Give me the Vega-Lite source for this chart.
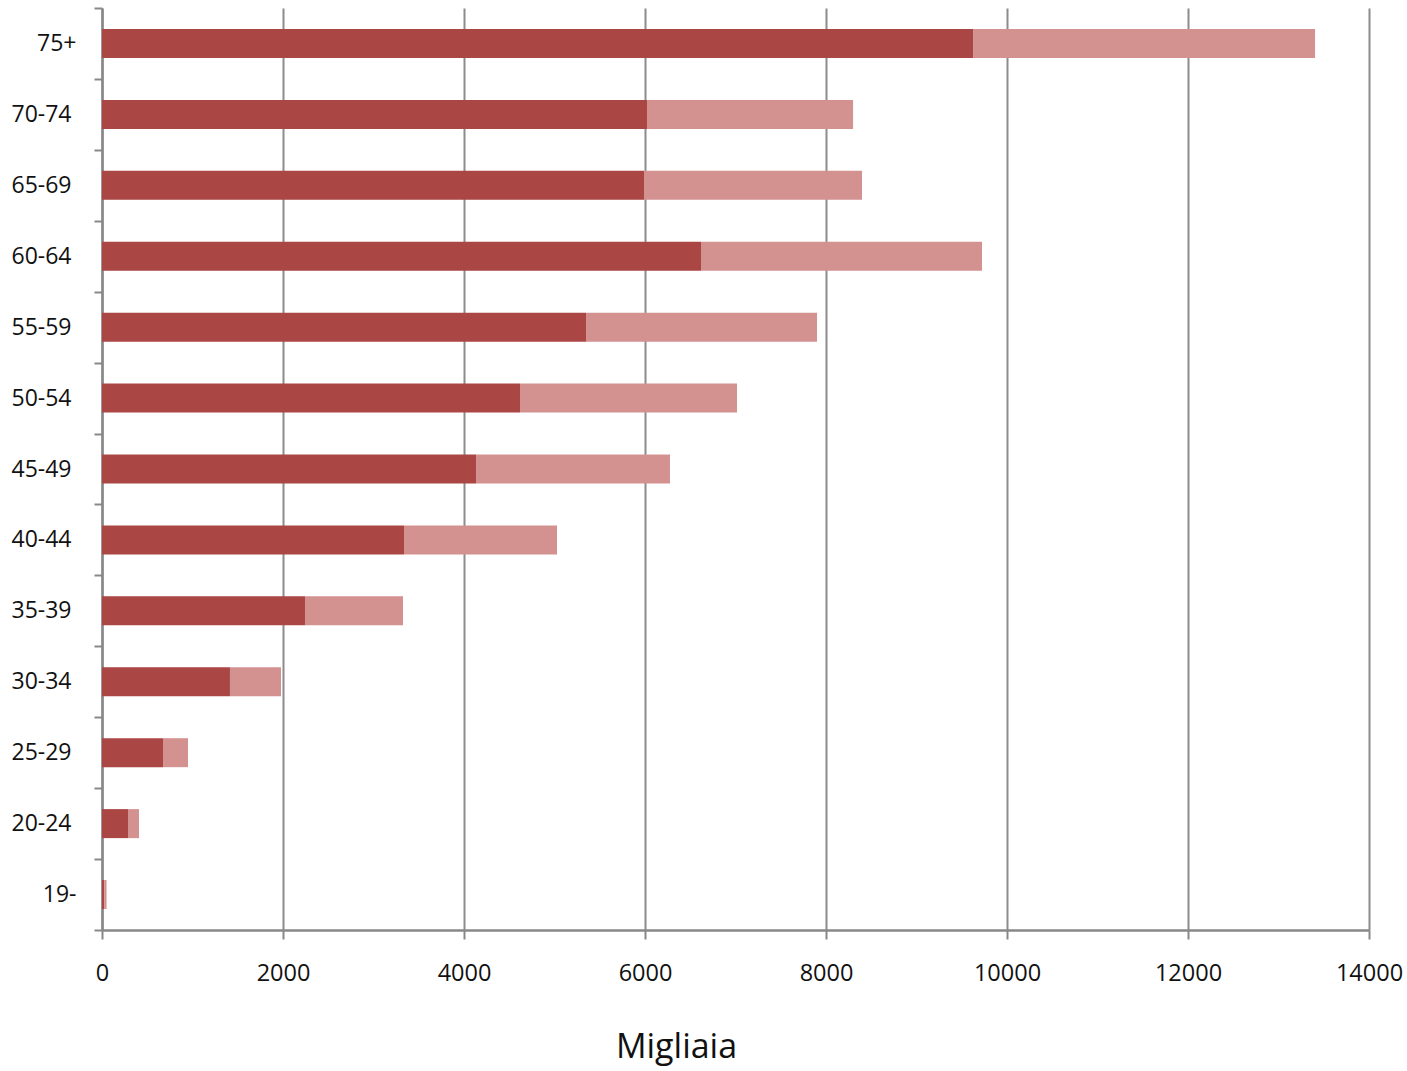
{
  "$schema": "https://vega.github.io/schema/vega-lite/v6.json",
  "autosize": "none",
  "width": 1267,
  "height": 922,
  "padding": {"left": 102, "top": 8, "right": 38, "bottom": 141},
  "background": "white",
  "data": {
    "values": [
      {"eta": "75+", "serie": "A", "ord": 1, "valore": 9625},
      {"eta": "75+", "serie": "B", "ord": 2, "valore": 3779},
      {"eta": "70-74", "serie": "A", "ord": 1, "valore": 6022},
      {"eta": "70-74", "serie": "B", "ord": 2, "valore": 2277},
      {"eta": "65-69", "serie": "A", "ord": 1, "valore": 5989},
      {"eta": "65-69", "serie": "B", "ord": 2, "valore": 2409},
      {"eta": "60-64", "serie": "A", "ord": 1, "valore": 6619},
      {"eta": "60-64", "serie": "B", "ord": 2, "valore": 3105},
      {"eta": "55-59", "serie": "A", "ord": 1, "valore": 5348},
      {"eta": "55-59", "serie": "B", "ord": 2, "valore": 2553},
      {"eta": "50-54", "serie": "A", "ord": 1, "valore": 4619},
      {"eta": "50-54", "serie": "B", "ord": 2, "valore": 2398},
      {"eta": "45-49", "serie": "A", "ord": 1, "valore": 4133},
      {"eta": "45-49", "serie": "B", "ord": 2, "valore": 2143},
      {"eta": "40-44", "serie": "A", "ord": 1, "valore": 3337},
      {"eta": "40-44", "serie": "B", "ord": 2, "valore": 1691},
      {"eta": "35-39", "serie": "A", "ord": 1, "valore": 2243},
      {"eta": "35-39", "serie": "B", "ord": 2, "valore": 1083},
      {"eta": "30-34", "serie": "A", "ord": 1, "valore": 1414},
      {"eta": "30-34", "serie": "B", "ord": 2, "valore": 564},
      {"eta": "25-29", "serie": "A", "ord": 1, "valore": 674},
      {"eta": "25-29", "serie": "B", "ord": 2, "valore": 276},
      {"eta": "20-24", "serie": "A", "ord": 1, "valore": 287},
      {"eta": "20-24", "serie": "B", "ord": 2, "valore": 122},
      {"eta": "19-", "serie": "A", "ord": 1, "valore": 25},
      {"eta": "19-", "serie": "B", "ord": 2, "valore": 25}
    ]
  },
  "mark": {"type": "bar", "size": 29},
  "encoding": {
    "y": {
      "field": "eta",
      "type": "nominal",
      "sort": ["75+", "70-74", "65-69", "60-64", "55-59", "50-54", "45-49", "40-44", "35-39", "30-34", "25-29", "20-24", "19-"],
      "scale": {"paddingInner": 0, "paddingOuter": 0},
      "axis": {
        "title": null,
        "tickBand": "extent",
        "grid": false,
        "domainColor": "#888888",
        "domainWidth": 2.5,
        "tickColor": "#888888",
        "tickWidth": 2,
        "tickSize": 8,
        "labelFont": "Open Sans",
        "labelFontSize": 23,
        "labelColor": "#111111",
        "labelPadding": {"condition": {"test": "datum.value === '75+' || datum.value === '19-'", "value": 18}, "value": 23}
      }
    },
    "x": {
      "field": "valore",
      "type": "quantitative",
      "stack": "zero",
      "scale": {"domain": [0, 14000], "nice": false},
      "axis": {
        "title": "Migliaia",
        "titleFont": "Open Sans",
        "titleFontSize": 34,
        "titleFontWeight": "normal",
        "titleColor": "#111111",
        "titlePadding": 46,
        "titleX": 574,
        "titleAlign": "center",
        "values": [0, 2000, 4000, 6000, 8000, 10000, 12000, 14000],
        "format": "d",
        "labelFlush": false,
        "grid": true,
        "gridColor": "#8c8c8c",
        "gridWidth": 2,
        "domainColor": "#888888",
        "domainWidth": 2.5,
        "tickColor": "#888888",
        "tickWidth": 2,
        "tickSize": 9,
        "labelFont": "Open Sans",
        "labelFontSize": 23.5,
        "labelColor": "#111111",
        "labelPadding": 22
      }
    },
    "color": {
      "field": "serie",
      "type": "nominal",
      "scale": {"domain": ["A", "B"], "range": ["#aa4644", "#d39190"]},
      "legend": null
    },
    "order": {"field": "ord", "type": "quantitative"}
  },
  "config": {"view": {"stroke": null}}
}
